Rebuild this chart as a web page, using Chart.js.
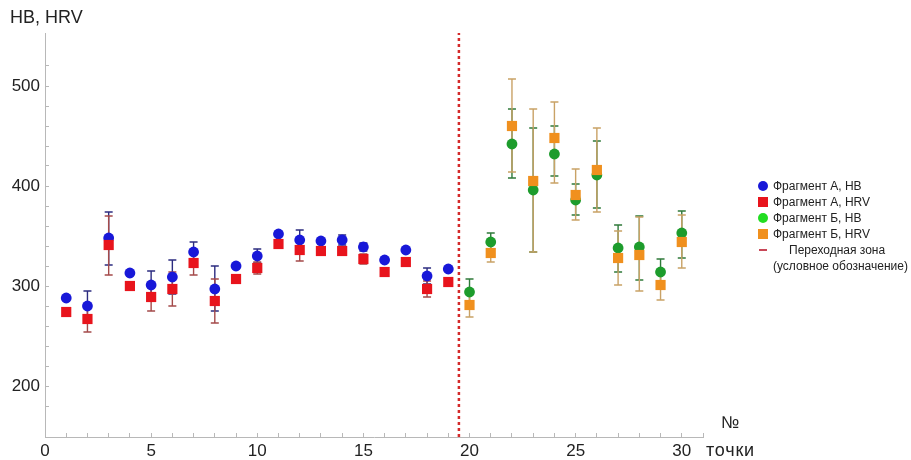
<!DOCTYPE html>
<html lang="ru">
<head>
<meta charset="utf-8">
<script src="https://cdn.jsdelivr.net/npm/chart.js@4.4.1/dist/chart.umd.min.js"></script>
<style>
  body { margin: 0; background: #fff; }
  #wrap { position: relative; width: 911px; height: 460px; font-family: "Liberation Sans", Arial, sans-serif; color: #222; }
  #chart { position: absolute; left: 0; top: 0; }
  .lbl { position: absolute; font-size: 17px; white-space: nowrap; }
  #legend { position: absolute; left: 758px; top: 178px; font-size: 12px; line-height: 16px; }
  #legend .row { display: flex; align-items: center; white-space: nowrap; }
  #legend .mk { width: 10px; height: 10px; margin-right: 5px; flex: none; }
  #legend .c { border-radius: 50%; }
</style>
</head>
<body>
<div id="wrap">
  <canvas id="chart" width="911" height="460"></canvas>
  <div class="lbl" style="left:10px; top:7px; font-size:18px;">HB, HRV</div>
  <div class="lbl" style="left:721px; top:413px;">№</div>
  <div class="lbl" style="left:706px; top:440px; font-size:18px; letter-spacing:0.8px;">точки</div>
  <div id="legend">
    <div class="row"><span class="mk c" style="background:#1818d8"></span>Фрагмент А, HB</div>
    <div class="row"><span class="mk" style="background:#e8141c"></span>Фрагмент А, HRV</div>
    <div class="row"><span class="mk c" style="background:#22dd22"></span>Фрагмент Б, HB</div>
    <div class="row"><span class="mk" style="background:#f0901e"></span>Фрагмент Б, HRV</div>
    <div class="row"><span class="mk" style="height:2px; width:8px; margin-right:22px; margin-left:1px; background:#c84858"></span>Переходная зона</div>
    <div class="row" style="margin-left:15px;">(условное обозначение)</div>
  </div>
</div>
<script>
// データ
const xA = [1, 2, 3, 4, 5, 6, 7, 8, 9, 10, 11, 12, 13, 14, 15, 16, 17, 18, 19];
const hbA = [288, 280, 348, 313, 301, 309, 334, 297, 320, 330, 352, 346, 345, 346, 339, 326, 336, 310, 317];
const hrvA = [274, 267, 341, 300, 289, 297, 323, 285, 307, 318, 342, 336, 335, 335, 327, 314, 324, 297, 304];
const hbALow = [null, 265, 321, null, 287, 292, 324, 275, null, 323, null, 336, null, 341, 335, null, null, 302, null];
const hbAHigh = [null, 295, 374, null, 315, 326, 344, 320, null, 337, null, 356, null, 351, 343, null, null, 318, null];
const hrvALow = [null, 254, 311, null, 275, 280, 311, 263, null, 312, null, 325, null, null, 322, null, null, 289, null];
const hrvAHigh = [null, 280, 370, null, 303, 314, 335, 307, null, 324, null, 347, null, null, 332, null, null, 305, null];

const xB = [20, 21, 22, 23, 24, 25, 26, 27, 28, 29, 30];
const hbB = [294, 344, 442, 396, 432, 386, 411, 338, 339, 314, 353];
const hrvB = [281, 333, 460, 405, 448, 391, 416, 328, 331, 301, 344];
const hbBLow = [281, 335, 408, 334, 410, 371, 378, 314, 306, 301, 328];
const hbBHigh = [307, 353, 477, 458, 460, 402, 445, 361, 370, 327, 375];
const hrvBLow = [269, 324, 414, 334, 403, 366, 374, 301, 295, 286, 318];
const hrvBHigh = [293, 342, 507, 477, 484, 417, 458, 355, 369, 316, 371];

const transitionX = 19.5;
const xMin = 0, xMax = 31;
const yMin = 149, yMax = 553;

function toPoints(xs, ys) {
    return xs.map((x, i) => ({ x: x, y: ys[i] }));
}

// エラーバー描画プラグイン
const errorBars = {
    id: 'errorBars',
    beforeDatasetsDraw(chart) {
        const ctx = chart.ctx;
        const xs = chart.scales.x, ys = chart.scales.y;
        chart.data.datasets.forEach(ds => {
            if (!ds.errLow) return;
            ctx.save();
            ctx.strokeStyle = ds.errColor;
            ctx.lineWidth = 1.4;
            ds.data.forEach((p, j) => {
                const lo = ds.errLow[j], hi = ds.errHigh[j];
                if (lo == null || hi == null) return;
                const px = xs.getPixelForValue(p.x);
                const p1 = ys.getPixelForValue(lo);
                const p2 = ys.getPixelForValue(hi);
                ctx.beginPath();
                ctx.moveTo(px, p1); ctx.lineTo(px, p2);
                ctx.moveTo(px - 4, p1); ctx.lineTo(px + 4, p1);
                ctx.moveTo(px - 4, p2); ctx.lineTo(px + 4, p2);
                ctx.stroke();
            });
            ctx.restore();
        });
    }
};

const axisColor = '#b8b8b8';

new Chart(document.getElementById('chart'), {
    type: 'scatter',
    data: {
        datasets: [
            {
                data: [{ x: transitionX, y: yMin }, { x: transitionX, y: yMax }],
                showLine: true,
                borderColor: '#d42a2a',
                borderWidth: 2.5,
                borderDash: [3, 3],
                pointRadius: 0,
                order: 5
            },
            {
                data: toPoints(xA, hbA),
                errLow: hbALow, errHigh: hbAHigh, errColor: '#2c2c80',
                pointStyle: 'circle', pointRadius: 5.4,
                backgroundColor: '#1818d8', borderColor: '#1818d8', borderWidth: 0,
                order: 4
            },
            {
                data: toPoints(xA, hrvA),
                errLow: hrvALow, errHigh: hrvAHigh, errColor: '#a44a4a',
                pointStyle: 'rect', pointRadius: 7.2,
                backgroundColor: '#e8141c', borderColor: '#e8141c', borderWidth: 0,
                order: 3
            },
            {
                data: toPoints(xB, hbB),
                errLow: hbBLow, errHigh: hbBHigh, errColor: '#2f7a3a',
                pointStyle: 'circle', pointRadius: 5.4,
                backgroundColor: '#1d9c2c', borderColor: '#1d9c2c', borderWidth: 0,
                order: 2
            },
            {
                data: toPoints(xB, hrvB),
                errLow: hrvBLow, errHigh: hrvBHigh, errColor: '#c9a266',
                pointStyle: 'rect', pointRadius: 7.2,
                backgroundColor: '#f0901e', borderColor: '#f0901e', borderWidth: 0,
                order: 1
            }
        ]
    },
    options: {
        responsive: false,
        animation: false,
        events: [],
        layout: { padding: { left: 0, top: 33, right: 208, bottom: 0 } },
        plugins: {
            legend: { display: false },
            tooltip: { enabled: false }
        },
        scales: {
            x: {
                type: 'linear',
                min: xMin,
                max: xMax,
                afterFit(scale) { scale.height = 23; },
                ticks: {
                    stepSize: 1,
                    autoSkip: false,
                    maxRotation: 0,
                    padding: 8,
                    color: '#222',
                    font: { family: '"Liberation Sans", Arial, sans-serif', size: 17 },
                    callback: v => (v % 5 === 0 ? v : '')
                },
                grid: { drawOnChartArea: false, tickLength: -4, color: axisColor },
                border: { color: axisColor, width: 1 }
            },
            y: {
                min: yMin,
                max: yMax,
                afterFit(scale) { scale.width = 45; },
                afterBuildTicks(scale) {
                    scale.ticks = scale.ticks.filter(t => t.value % 20 === 0);
                },
                ticks: {
                    stepSize: 20,
                    autoSkip: false,
                    padding: 9,
                    color: '#222',
                    font: { family: '"Liberation Sans", Arial, sans-serif', size: 17 },
                    callback: v => (v % 100 === 0 ? v : '')
                },
                grid: { drawOnChartArea: false, tickLength: -4, color: axisColor },
                border: { color: axisColor, width: 1 }
            }
        }
    },
    plugins: [errorBars]
});
</script>
</body>
</html>
